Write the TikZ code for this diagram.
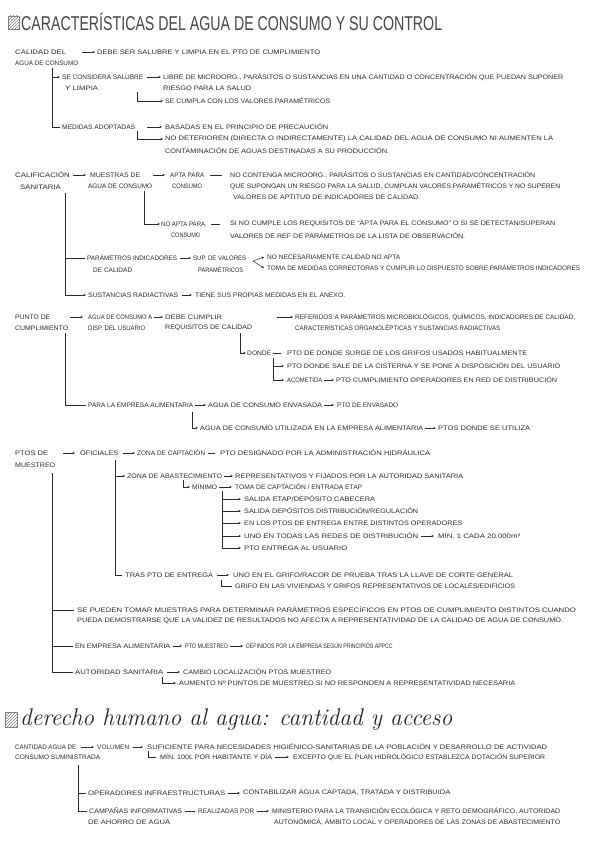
\documentclass[tikz,border=0pt]{standalone}
\usepackage{graphicx}
\usepackage{fontspec}
\setmainfont{Liberation Sans}
\newfontfamily\myhandfont{Latin Modern Roman}
\usetikzlibrary{arrows.meta,patterns}
\definecolor{ink}{HTML}{2A2A2A}
\newlength\fitlen
\newcommand\fitw[3]{\settowidth{\fitlen}{#3}\pgfmathsetmacro\fitsx{max(0.8,min(1.2,(#2-#1)/\fitlen))}\scalebox{\fitsx}[1]{#3}}
\newcommand\fitx[3]{\settowidth{\fitlen}{#3}\pgfmathsetmacro\fitsx{(#2-#1)/\fitlen}\scalebox{\fitsx}[1]{#3}}
\newcommand\Tx[5]{\node[tx] (#1) at (#2,#3) {\fitw{#2}{#4}{#5}};}
\newcommand\Ha[4]{\draw[ar,shorten <=#3pt,shorten >=#4pt] (#2.west -| #1.east) -- (#2.west);}
\newcommand\Hl[4]{\draw[ln,shorten <=#3pt,shorten >=#4pt] (#2.west -| #1.east) -- (#2.west);}
\begin{document}
\begin{tikzpicture}[x=1pt,y=-1pt,
  tx/.style={anchor=west,inner sep=0pt,font=\fontsize{6.5}{7}\selectfont,text=ink},
  ln/.style={line width=0.5pt,draw=ink},
  ar/.style={ln,-{Stealth[length=2.6pt,width=2.4pt]}},
  icon/.style={draw=gray,line width=0.4pt,pattern=north east lines,pattern color=gray}]
\fill[white] (0,0) rectangle (601,848);
\useasboundingbox (0,0) rectangle (601,848);

% ---------- title 1
\draw[icon] (8,16) rectangle (19,29);
\node[anchor=base west,inner sep=0pt,font=\fontsize{20}{20}\selectfont,text=black!72] (title1) at (21,31) {\fitx{21}{442}{CARACTERÍSTICAS DEL AGUA DE CONSUMO Y SU CONTROL}};

% ---------- section 1
\Tx{c1}{15}{52}{66}{CALIDAD DEL}
\Tx{c1b}{15}{63}{78}{AGUA DE CONSUMO}
\Tx{c2}{97}{52}{320}{DEBE SER SALUBRE Y LIMPIA EN EL PTO DE CUMPLIMIENTO}
\Tx{c3}{62}{77}{143}{SE CONSIDERA SALUBRE}
\Tx{c3b}{65}{88}{100}{Y LIMPIA}
\Tx{c4}{163}{77}{563}{LIBRE DE MICROORG., PARÁSITOS O SUSTANCIAS EN UNA CANTIDAD O CONCENTRACIÓN QUE PUEDAN SUPONER}
\Tx{c4b}{163}{88}{251}{RIESGO PARA LA SALUD}
\Tx{c5}{165}{101}{330}{SE CUMPLA CON LOS VALORES PARAMÉTRICOS}
\Tx{c6}{62}{127}{135}{MEDIDAS ADOPTADAS}
\Tx{c7}{165}{127}{328}{BASADAS EN EL PRINCIPIO DE PRECAUCIÓN}
\Tx{c8}{165}{139}{553}{NO DETERIOREN (DIRECTA O INDIRECTAMENTE) LA CALIDAD DEL AGUA DE CONSUMO NI AUMENTEN LA}
\Tx{c8b}{165}{151}{389}{CONTAMINACIÓN DE AGUAS DESTINADAS A SU PRODUCCIÓN.}
\Ha{c1}{c2}{16}{2}
\coordinate (v1) at (52,68);
\draw[ar] (v1) |- ([xshift=-2pt]c3.west);
\draw[ln] (v1) |- ([xshift=-2pt]c6.west);
\Ha{c3}{c4}{4}{2}
\coordinate (v2) at (137,92);
\draw[ar] (v2) |- ([xshift=-2pt]c5.west);
\Ha{c6}{c7}{12}{3}
\coordinate (v3) at (137,131);
\draw[ar] (v3) |- ([xshift=-2pt]c8.west);

% ---------- section 2
\Tx{d1}{15}{175}{72}{CALIFICACIÓN}
\Tx{d1b}{20}{187}{63}{SANITARIA}
\Tx{d2}{90}{175}{140}{MUESTRAS DE}
\Tx{d2b}{88}{186}{152}{AGUA DE CONSUMO}
\Tx{d3}{170}{175}{204}{APTA PARA}
\Tx{d3b}{172}{186}{202}{CONSUMO}
\Tx{d4}{230}{175}{535}{NO CONTENGA MICROORG., PARÁSITOS O SUSTANCIAS EN CANTIDAD/CONCENTRACIÓN}
\Tx{d4b}{230}{186}{560}{QUE SUPONGAN UN RIESGO PARA LA SALUD, CUMPLAN VALORES PARAMÉTRICOS Y NO SUPEREN}
\Tx{d4c}{233}{197}{420}{VALORES DE APTITUD DE INDICADORES DE CALIDAD.}
\Tx{d5}{161}{224}{205}{NO APTA PARA}
\Tx{d5b}{171}{235}{200}{CONSUMO}
\Tx{d6}{230}{224}{555}{SI NO CUMPLE LOS REQUISITOS DE “APTA PARA EL CONSUMO” O SI SE DETECTAN/SUPERAN}
\Tx{d6b}{230}{236}{465}{VALORES DE REF DE PARÁMETROS DE LA LISTA DE OBSERVACIÓN.}
\Tx{d7}{87}{258}{177}{PARÁMETROS INDICADORES}
\Tx{d7b}{93}{270}{132}{DE CALIDAD}
\Tx{d8}{193}{258}{246}{SUP. DE VALORES}
\Tx{d8b}{198}{270}{243}{PARAMÉTRICOS}
\Tx{d9}{267}{257}{400}{NO NECESARIAMENTE CALIDAD NO APTA}
\Tx{d9b}{267}{268}{580}{TOMA DE MEDIDAS CORRECTORAS Y CUMPLIR LO DISPUESTO SOBRE PARÁMETROS INDICADORES}
\Tx{d10}{88}{295}{178}{SUSTANCIAS RADIACTIVAS}
\Tx{d11}{195}{295}{345}{TIENE SUS PROPIAS MEDIDAS EN EL ANEXO.}
\Ha{d1}{d2}{3}{4}
\Ha{d2}{d3}{13}{5}
\Hl{d3}{d4}{6}{8}
\coordinate (e1) at (144,191);
\draw[ar] (e1) |- ([xshift=-1pt]d5.west);
\Hl{d5}{d6}{6}{10}
\coordinate (e2) at (65,193);
\draw[ln] (e2) |- ([xshift=-2pt]d7.west);
\draw[ar] (e2) |- ([xshift=-2pt]d10.west);
\Ha{d7}{d8}{3}{2}
\coordinate (e3) at (253,261);
\draw[ar] (e3) -- ([xshift=-3pt]d9.west);
\draw[ar] (e3) -- ([xshift=-3pt]d9b.west);
\Ha{d10}{d11}{4}{3}

% ---------- section 3
\Tx{p1}{15}{317}{50}{PUNTO DE}
\Tx{p1b}{15}{328}{68}{CUMPLIMIENTO}
\Tx{p2}{88}{317}{152}{AGUA DE CONSUMO A}
\Tx{p2b}{88}{328}{145}{DISP. DEL USUARIO}
\Tx{p3}{165}{317}{222}{DEBE CUMPLIR}
\Tx{p3b}{165}{328}{252}{REQUISITOS DE CALIDAD}
\Tx{p4}{295}{317}{575}{REFERIDOS A PARÁMETROS MICROBIOLÓGICOS, QUÍMICOS, INDICADORES DE CALIDAD,}
\Tx{p4b}{295}{328}{500}{CARACTERÍSTICAS ORGANOLÉPTICAS Y SUSTANCIAS RADIACTIVAS}
\Tx{p5}{247}{353}{271}{DONDE}
\Tx{p6}{287}{353}{527}{PTO DE DONDE SURGE DE LOS GRIFOS USADOS HABITUALMENTE}
\Tx{p7}{287}{366}{560}{PTO DONDE SALE DE LA CISTERNA Y SE PONE A DISPOSICIÓN DEL USUARIO}
\Tx{p8}{287}{380}{322}{ACOMETIDA}
\Tx{p8b}{336}{380}{557}{PTO CUMPLIMIENTO OPERADORES EN RED DE DISTRIBUCIÓN}
\Tx{p9}{88}{405}{193}{PARA LA EMPRESA ALIMENTARIA}
\Tx{p10}{208}{405}{322}{AGUA DE CONSUMO ENVASADA}
\Tx{p11}{337}{405}{398}{PTO DE ENVASADO}
\Tx{p12}{200}{428}{423}{AGUA DE CONSUMO UTILIZADA EN LA EMPRESA ALIMENTARIA}
\Tx{p13}{438}{428}{530}{PTOS DONDE SE UTILIZA}
\Ha{p1}{p2}{20}{5}
\Ha{p2}{p3}{2}{2}
\Ha{p3}{p4}{55}{2}
\coordinate (q1) at (240,333);
\draw[ar] (q1) |- ([xshift=-1pt]p5.west);
\Hl{p5}{p6}{2}{6}
\coordinate (q2) at (273,358);
\draw[ar] (q2) |- ([xshift=-3pt]p7.west);
\draw[ar] (q2) |- ([xshift=-3pt]p8.west);
\Ha{p8}{p8b}{2}{2}
\coordinate (q3) at (65,333);
\draw[ln] (q3) |- ([xshift=-2pt]p9.west);
\Ha{p9}{p10}{2}{2}
\Ha{p10}{p11}{2}{3}
\coordinate (q4) at (192,412);
\draw[ar] (q4) |- ([xshift=-2pt]p12.west);
\Ha{p12}{p13}{2}{2}

% ---------- section 4
\Tx{m1}{15}{453}{48}{PTOS DE}
\Tx{m1b}{15}{465}{55}{MUESTREO}
\Tx{m2}{80}{453}{118}{OFICIALES}
\Tx{m3}{137}{453}{205}{ZONA DE CAPTACIÓN}
\Tx{m4}{220}{453}{430}{PTO DESIGNADO POR LA ADMINISTRACIÓN HIDRÁULICA}
\Tx{m5}{127}{476}{222}{ZONA DE ABASTECIMIENTO}
\Tx{m6}{235}{476}{463}{REPRESENTATIVOS Y FIJADOS POR LA AUTORIDAD SANITARIA}
\Tx{m7}{192}{487}{217}{MÍNIMO}
\Tx{m8}{235}{487}{362}{TOMA DE CAPTACIÓN / ENTRADA ETAP}
\Tx{m9}{244}{499}{375}{SALIDA ETAP/DEPÓSITO CABECERA}
\Tx{m10}{244}{511}{418}{SALIDA DEPÓSITOS DISTRIBUCIÓN/REGULACIÓN}
\Tx{m11}{244}{523}{462}{EN LOS PTOS DE ENTREGA ENTRE DISTINTOS OPERADORES}
\Tx{m12}{244}{536}{418}{UNO EN TODAS LAS REDES DE DISTRIBUCIÓN}
\Tx{m13}{438}{536}{530}{MÍN. 1 CADA 20.000m³}
\Tx{m14}{244}{548}{347}{PTO ENTREGA AL USUARIO}
\Tx{m15}{125}{575}{213}{TRAS PTO DE ENTREGA}
\Tx{m16}{233}{575}{513}{UNO EN EL GRIFO/RACOR DE PRUEBA TRAS LA LLAVE DE CORTE GENERAL}
\Tx{m17}{235}{586}{515}{GRIFO EN LAS VIVIENDAS Y GRIFOS REPRESENTATIVOS DE LOCALES/EDIFICIOS}
\Tx{m18}{77}{610}{583}{SE PUEDEN TOMAR MUESTRAS PARA DETERMINAR PARÁMETROS ESPECÍFICOS EN PTOS DE CUMPLIMIENTO DISTINTOS CUANDO}
\Tx{m18b}{77}{621}{563}{PUEDA DEMOSTRARSE QUE LA VALIDEZ DE RESULTADOS NO AFECTA A REPRESENTATIVIDAD DE LA CALIDAD DE AGUA DE CONSUMO.}
\Tx{m19}{75}{646}{170}{EN EMPRESA ALIMENTARIA}
\Tx{m20}{185}{646}{228}{PTO MUESTREO}
\Tx{m21}{246}{646}{385}{DEFINIDOS POR LA EMPRESA SEGÚN PRINCIPIOS APPCC}
\Tx{m22}{75}{672}{163}{AUTORIDAD SANITARIA}
\Tx{m23}{183}{672}{331}{CAMBIO LOCALIZACIÓN PTOS MUESTREO}
\Tx{m24}{179}{683}{515}{AUMENTO Nº PUNTOS DE MUESTREO SI NO RESPONDEN A REPRESENTATIVIDAD NECESARIA}
\Ha{m1}{m2}{15}{5}
\Ha{m2}{m3}{5}{2}
\Hl{m3}{m4}{3}{5}
\coordinate (y1) at (115,460);
\draw[ar] (y1) |- ([xshift=-2pt]m5.west);
\draw[ln] (y1) |- ([xshift=-3pt]m15.west);
\Ha{m5}{m6}{2}{2}
\coordinate (y2) at (183,480);
\draw[ar] (y2) |- ([xshift=-2pt]m7.west);
\Ha{m7}{m8}{2}{3}
\coordinate (y3) at (222,491);
\foreach \n in {m9,m10,m11,m12,m14} \draw[ar] (y3) |- ([xshift=-3pt]\n.west);
\Ha{m12}{m13}{3}{4}
\Ha{m15}{m16}{4}{4}
\coordinate (y4) at (221,580);
\draw[ln] (y4) |- ([xshift=-3pt]m17.west);
\coordinate (y5) at (52,473);
\draw[ln] (y5) |- ([xshift=-3pt]m18.west);
\draw[ln] (y5) |- ([xshift=-2pt]m19.west);
\draw[ln] (y5) |- ([xshift=-2pt]m22.west);
\Ha{m19}{m20}{3}{3}
\Ha{m20}{m21}{2}{3}
\Ha{m22}{m23}{4}{3}
\coordinate (y6) at (162,677);
\draw[ar] (y6) |- ([xshift=-3pt]m24.west);

% ---------- title 2
\draw[icon] (5,712) rectangle (17,727);
\node[anchor=base west,inner sep=0pt,font=\myhandfont\itshape\fontsize{24}{24}\selectfont,text=black!85] (title2) at (20,725) {\fitx{20}{452}{derecho humano al agua: cantidad y acceso}};

% ---------- section 5
\Tx{w1}{15}{747}{76}{CANTIDAD AGUA DE}
\Tx{w1b}{15}{757}{100}{CONSUMO SUMINISTRADA}
\Tx{w2}{97}{747}{129}{VOLUMEN}
\Tx{w3}{147}{747}{547}{SUFICIENTE PARA NECESIDADES HIGIÉNICO-SANITARIAS DE LA POBLACIÓN Y DESARROLLO DE ACTIVIDAD}
\Tx{w4}{160}{757}{272}{MÍN. 100L POR HABITANTE Y DÍA}
\Tx{w5}{293}{757}{545}{EXCEPTO QUE EL PLAN HIDROLÓGICO ESTABLEZCA DOTACIÓN SUPERIOR}
\Tx{w6}{88}{793}{225}{OPERADORES INFRAESTRUCTURAS}
\Tx{w7}{243}{793}{450}{CONTABILIZAR AGUA CAPTADA, TRATADA Y DISTRIBUIDA}
\Tx{w8}{89}{811}{182}{CAMPAÑAS INFORMATIVAS}
\Tx{w8b}{88}{822}{170}{DE AHORRO DE AGUA}
\Tx{w9}{198}{811}{254}{REALIZADAS POR}
\Tx{w10}{272}{811}{560}{MINISTERIO PARA LA TRANSICIÓN ECOLÓGICA Y RETO DEMOGRÁFICO, AUTORIDAD}
\Tx{w10b}{274}{822}{560}{AUTONÓMICA, ÁMBITO LOCAL Y OPERADORES DE LAS ZONAS DE ABASTECIMIENTO}
\Ha{w1}{w2}{5}{3}
\Ha{w2}{w3}{4}{4}
\coordinate (x1) at (148,751);
\draw[ln] (x1) |- ([xshift=-4pt]w4.west);
\Ha{w4}{w5}{3}{4}
\coordinate (x2) at (78,765);
\draw[ln] (x2) |- ([xshift=-2pt]w6.west);
\draw[ln] (x2) |- ([xshift=-2pt]w8.west);
\Ha{w6}{w7}{3}{3}
\Hl{w8}{w9}{3}{3}
\Ha{w9}{w10}{3}{3}
\end{tikzpicture}
\end{document}
